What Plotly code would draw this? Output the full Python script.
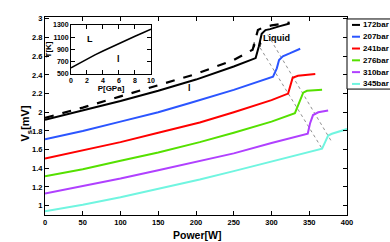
import plotly.graph_objects as go

# ---------------- data ----------------
names = ["172bar", "207bar", "241bar", "276bar", "310bar", "345bar"]
colors = ["#000000", "#2b55ff", "#ff0000", "#55e000", "#b040ff", "#70f5e0"]

p_172 = [0, 50, 100, 150, 200, 250, 279, 283, 287, 292, 298, 310, 324]
v_172 = [1.92, 2.02, 2.12, 2.23, 2.35, 2.49, 2.58, 2.70, 2.84, 2.88, 2.89, 2.92, 2.95]

p_172d = [0, 50, 100, 150, 200, 250, 275, 279, 282, 289, 300, 324]
v_172d = [1.94, 2.05, 2.17, 2.29, 2.41, 2.56, 2.67, 2.79, 2.88, 2.91, 2.93, 2.96]

p_207 = [0, 50, 100, 150, 192, 250, 302, 307, 310, 315, 324, 338]
v_207 = [1.71, 1.80, 1.90, 2.00, 2.10, 2.24, 2.38, 2.47, 2.56, 2.60, 2.63, 2.68]

p_241 = [0, 50, 100, 150, 205, 250, 300, 322, 324, 328, 335, 358]
v_241 = [1.505, 1.59, 1.68, 1.78, 1.89, 2.00, 2.13, 2.20, 2.26, 2.37, 2.39, 2.41]

p_276 = [0, 50, 100, 150, 205, 250, 300, 331, 336, 342, 347, 367]
v_276 = [1.315, 1.39, 1.48, 1.57, 1.68, 1.78, 1.90, 1.99, 2.09, 2.21, 2.23, 2.24]

p_310 = [0, 50, 100, 150, 205, 250, 300, 348, 351, 355, 362, 375]
v_310 = [1.13, 1.21, 1.29, 1.38, 1.48, 1.56, 1.67, 1.77, 1.88, 1.97, 2.00, 2.02]

p_345 = [0, 50, 100, 150, 205, 250, 300, 350, 367, 371, 375, 380, 391, 400]
v_345 = [0.94, 1.01, 1.09, 1.18, 1.28, 1.37, 1.47, 1.57, 1.61, 1.68, 1.75, 1.77, 1.80, 1.82]

series_p = [p_172, p_207, p_241, p_276, p_310, p_345]
series_v = [v_172, v_207, v_241, v_276, v_310, v_345]

# grey dotted guide lines (transition boundaries)
guide1_p = [285, 367]
guide1_v = [2.69, 1.61]
guide2_p = [295, 380]
guide2_v = [2.83, 1.68]

# inset phase diagram
inset_p = [0, 1, 2, 3, 4, 5, 6, 7, 8, 9, 10]
inset_t = [600, 675, 745, 812, 876, 938, 998, 1057, 1115, 1172, 1230]

x_ticks = [0, 50, 100, 150, 200, 250, 300, 350, 400]
y_ticks = [1, 1.2, 1.4, 1.6, 1.8, 2, 2.2, 2.4, 2.6, 2.8, 3]
y_ticklabels = ["1", "1.2", "1.4", "1.6", "1.8", "2", "2.2", "2.4", "2.6", "2.8", "3"]
inset_xticks = [0, 2, 4, 6, 8, 10]
inset_yticks = [500, 700, 900, 1100, 1300]

FONT = "Liberation Sans Narrow, Arial Narrow, Liberation Sans, Arial"

fig = go.Figure()

for gp, gv in [(guide1_p, guide1_v), (guide2_p, guide2_v)]:
    fig.add_trace(go.Scatter(x=gp, y=gv, mode="lines",
                             line=dict(color="#909090", width=1, dash="dot"),
                             showlegend=False, hoverinfo="skip"))

fig.add_trace(go.Scatter(x=p_172d, y=v_172d, mode="lines",
                         line=dict(color="black", width=2.2, dash="dash"),
                         showlegend=False))

for name, col, ps, vs in zip(names, colors, series_p, series_v):
    fig.add_trace(go.Scatter(x=ps, y=vs, mode="lines", name=name,
                             line=dict(color=col, width=2), showlegend=False))

fig.add_trace(go.Scatter(x=inset_p, y=inset_t, mode="lines",
                         line=dict(color="black", width=1.6),
                         xaxis="x2", yaxis="y2", showlegend=False))

axis_common = dict(showline=True, linecolor="black", linewidth=1, mirror="ticks",
                   ticks="inside", ticklen=4, tickcolor="black", showgrid=False,
                   zeroline=False)

fig.update_layout(
    width=390, height=242,
    margin=dict(l=45, r=43, t=17, b=27),
    paper_bgcolor="white", plot_bgcolor="white",
    font=dict(family=FONT, size=8, color="black"),
    showlegend=False,
    xaxis=dict(range=[0, 400], tickvals=x_ticks, **axis_common,
               tickfont=dict(size=7.5, family=FONT, weight="bold")),
    yaxis=dict(range=[0.9, 3.02], tickvals=y_ticks, ticktext=y_ticklabels,
               **axis_common, tickfont=dict(size=7.5, family=FONT, weight="bold")),
    xaxis2=dict(domain=[0.086, 0.351], anchor="y2", range=[0, 10],
                tickvals=inset_xticks, **axis_common,
                tickfont=dict(size=7, family=FONT, weight="bold"),
                title=dict(text="P[GPa]", standoff=0,
                           font=dict(size=8, family=FONT, weight="bold"))),
    yaxis2=dict(domain=[0.712, 0.96], anchor="x2", range=[500, 1300],
                tickvals=inset_yticks, **axis_common,
                tickfont=dict(size=7, family=FONT, weight="bold"),
                title=dict(text="T[K]", standoff=0,
                           font=dict(size=8, family=FONT, weight="bold"))),
)

# inset white background
fig.add_shape(type="rect", xref="x2 domain", yref="y2 domain", x0=0, x1=1, y0=0, y1=1,
              fillcolor="white", line=dict(width=0), layer="below")

# manual legend (compact, like the reference)
ly_top, dy = 0.99, 0.0596
fig.add_shape(type="rect", xref="paper", yref="paper", x0=1.0, x1=1.17,
              y0=0.636, y1=ly_top,
              line=dict(color="black", width=1), fillcolor="white")
for i, (name, col) in enumerate(zip(names, colors)):
    yy = 0.96 - i * dy
    fig.add_shape(type="line", xref="paper", yref="paper", x0=1.0166, x1=1.043,
                  y0=yy, y1=yy, line=dict(color=col, width=2))
    fig.add_annotation(xref="paper", yref="paper", x=1.045, y=yy, text=name,
                       showarrow=False, xanchor="left", yanchor="middle",
                       font=dict(size=8, family=FONT, weight="bold"))

# axis titles
fig.add_annotation(xref="paper", yref="paper", x=0.503, y=-0.10, text="Power[W]",
                   showarrow=False, xanchor="center", yanchor="middle",
                   font=dict(size=10.5, family=FONT, weight="bold"))
fig.add_annotation(xref="paper", yref="paper", x=-0.063, y=0.462,
                   text="V<sub>s</sub>[mV]", textangle=-90,
                   showarrow=False, xanchor="center", yanchor="middle",
                   font=dict(size=11, family=FONT, weight="bold"))

# in-plot labels
fig.add_annotation(x=307, y=2.80, text="Liquid", showarrow=False,
                   font=dict(size=9, family=FONT, weight="bold"))
fig.add_annotation(x=192, y=2.26, text="l", showarrow=False,
                   font=dict(size=9, family=FONT, weight="bold"))
fig.add_annotation(x=2.4, y=1070, xref="x2", yref="y2", text="L", showarrow=False,
                   font=dict(size=9, family=FONT, weight="bold"))
fig.add_annotation(x=5.9, y=745, xref="x2", yref="y2", text="l", showarrow=False,
                   font=dict(size=9, family=FONT, weight="bold"))

# hysteresis arrows
fig.add_annotation(x=277, y=2.69, ax=0, ay=-7, showarrow=True, arrowhead=2,
                   arrowsize=0.6, arrowwidth=1, arrowcolor="black", text="")
fig.add_annotation(x=285, y=2.76, ax=0, ay=7, showarrow=True, arrowhead=2,
                   arrowsize=0.6, arrowwidth=1, arrowcolor="black", text="")

fig.write_html(
    "out.html",
    config={"displayModeBar": False},
    post_script="document.body.style.margin='0';document.body.style.overflow='hidden';",
)
